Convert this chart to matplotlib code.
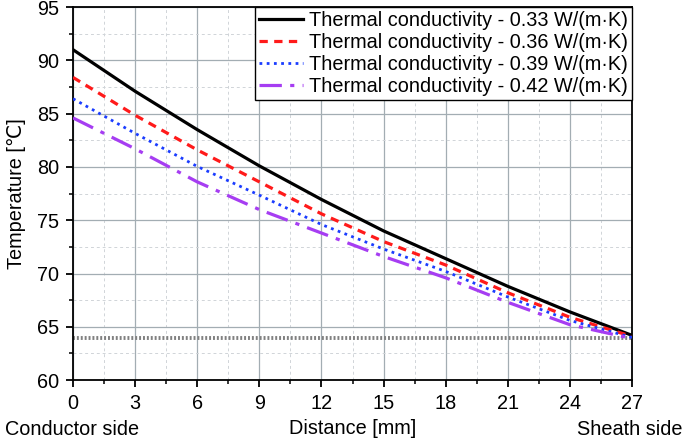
import matplotlib
matplotlib.use("Agg")
import matplotlib.pyplot as plt
from matplotlib.ticker import MultipleLocator

plt.rcParams['font.family'] = ['Liberation Sans', 'DejaVu Sans']

distance = [0, 3, 6, 9, 12, 15, 18, 21, 24, 27]
temp_033 = [91.0, 87.1, 83.5, 80.1, 76.95, 74.0, 71.4, 68.8, 66.4, 64.2]
temp_036 = [88.4, 84.85, 81.6, 78.6, 75.6, 73.0, 70.8, 68.2, 65.9, 64.1]
temp_039 = [86.4, 83.15, 80.05, 77.35, 74.6, 72.3, 70.2, 67.8, 65.6, 64.0]
temp_042 = [84.6, 81.7, 78.6, 76.0, 73.8, 71.6, 69.6, 67.3, 65.2, 63.9]
ref_temp = 63.95
labels = ["Thermal conductivity - 0.33 W/(m\u00b7K)",
          "Thermal conductivity - 0.36 W/(m\u00b7K)",
          "Thermal conductivity - 0.39 W/(m\u00b7K)",
          "Thermal conductivity - 0.42 W/(m\u00b7K)"]

FS = 14.3
fig = plt.figure(figsize=(6.85, 4.42), dpi=100)
ax = fig.add_axes([0.1066, 0.140, 0.816, 0.844])

ax.set_xlim(0, 27)
ax.set_ylim(60, 95)
ax.xaxis.set_major_locator(MultipleLocator(3))
ax.xaxis.set_minor_locator(MultipleLocator(1.5))
ax.yaxis.set_major_locator(MultipleLocator(5))
ax.yaxis.set_minor_locator(MultipleLocator(2.5))
ax.grid(which='major', color='#a3adb3', lw=0.9, ls='-')
ax.grid(which='minor', color='#d0d4d8', lw=0.7, ls=(0, (3, 3)))
ax.set_axisbelow(True)

ax.axhline(ref_temp, color='#808080', lw=2.8, ls=(0, (0.5, 0.5)), zorder=2)

ax.plot(distance, temp_033, color='black', lw=2.3, ls='-', label=labels[0], zorder=5)
ax.plot(distance, temp_036, color='#ff1a1a', lw=2.3, ls=(0, (2.6, 2.0)), label=labels[1], zorder=5)
ax.plot(distance, temp_039, color='#1a3cff', lw=2.0, ls=(0, (1.0, 1.6)), label=labels[2], zorder=5)
ax.plot(distance, temp_042, color='#a63df2', lw=2.3, ls=(0, (7.0, 2.6, 1.3, 2.6)), label=labels[3], zorder=5)

for s in ax.spines.values():
    s.set_linewidth(1.3)
    s.set_color('black')

ax.tick_params(which='major', direction='out', length=5, width=1.3, labelsize=FS, pad=5)
ax.tick_params(which='minor', direction='out', length=3, width=1.1)

ax.set_ylabel("Temperature [\u2103]", fontsize=FS, labelpad=8,
              family=['Liberation Sans', 'DejaVu Sans', 'Noto Sans CJK SC'])
ax.set_xlabel("Distance [mm]", fontsize=FS, labelpad=4)

fig.text(0.007, 0.016, "Conductor side", fontsize=FS, ha='left', va='baseline')
fig.text(0.997, 0.016, "Sheath side", fontsize=FS, ha='right', va='baseline')

leg = ax.legend(loc='upper right', fontsize=FS, frameon=True, fancybox=False,
                edgecolor='black', framealpha=1, borderaxespad=0, borderpad=0.2,
                handlelength=2.2, handletextpad=0.3, labelspacing=0.15)
leg.get_frame().set_linewidth(1.0)

fig.savefig("out.png", dpi=100)
